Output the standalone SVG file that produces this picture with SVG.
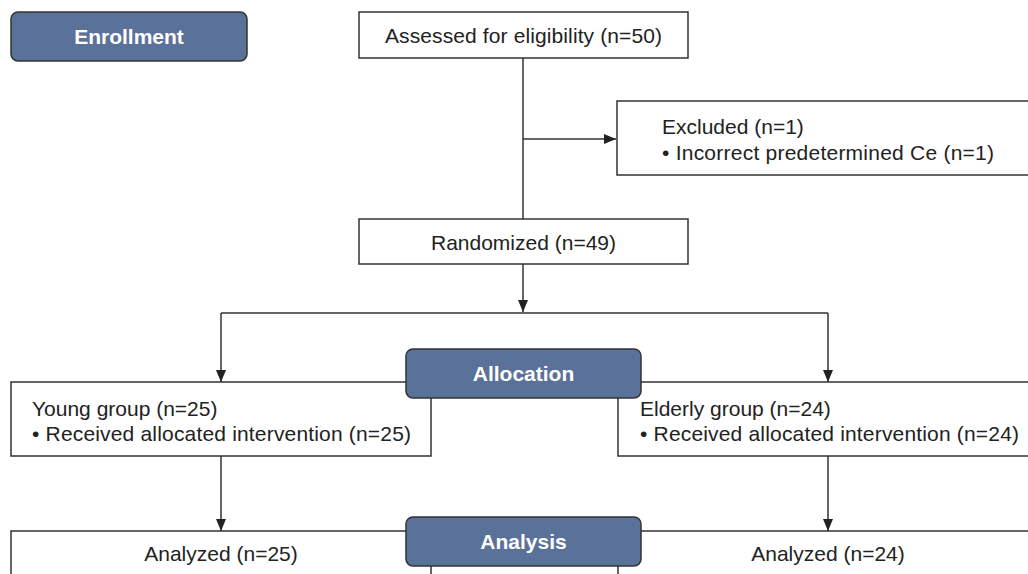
<svg xmlns="http://www.w3.org/2000/svg" width="1028" height="574" viewBox="0 0 1028 574">
<style>
.box{fill:#fff;stroke:#333;stroke-width:1.5}
.hdr{fill:#5a7299;stroke:#333;stroke-width:1.5}
.t{font-family:"Liberation Sans",Arial,sans-serif;font-size:21px;fill:#222}
.h{font-family:"Liberation Sans",Arial,sans-serif;font-size:21px;font-weight:bold;fill:#fff}
.c{fill:none;stroke:#333;stroke-width:1.5}
</style>
<defs>
<marker id="ah" viewBox="0 0 12 12" refX="12" refY="6" markerWidth="12" markerHeight="12" markerUnits="userSpaceOnUse" orient="auto">
<path d="M0,1 L12,6 L0,11 Z" fill="#222"/>
</marker>
</defs>
<g id="connectors">
<path class="c" d="M523,58 V219"/>
<path class="c" d="M523,139 H616" marker-end="url(#ah)"/>
<path class="c" d="M523,264 V312" marker-end="url(#ah)"/>
<path class="c" d="M221,313 H828"/>
<path class="c" d="M221,313 V382" marker-end="url(#ah)"/>
<path class="c" d="M828,313 V382" marker-end="url(#ah)"/>
<path class="c" d="M221,456 V531" marker-end="url(#ah)"/>
<path class="c" d="M828,456 V531" marker-end="url(#ah)"/>
</g>
<g id="enrollment">
<rect class="hdr" x="11" y="12" width="236" height="49" rx="7"/>
<text class="h" x="129" y="44" text-anchor="middle">Enrollment</text>
</g>
<g id="assessed">
<rect class="box" x="359" y="12" width="329" height="46"/>
<text class="t" x="523.5" y="43" text-anchor="middle" textLength="277">Assessed for eligibility (n=50)</text>
</g>
<g id="excluded">
<rect class="box" x="617" y="101" width="420" height="74"/>
<text class="t" x="662" y="134">Excluded (n=1)</text>
<text class="t" x="662" y="160" textLength="332">• Incorrect predetermined Ce (n=1)</text>
</g>
<g id="randomized">
<rect class="box" x="359" y="219" width="329" height="45"/>
<text class="t" x="523.5" y="250" text-anchor="middle">Randomized (n=49)</text>
</g>
<g id="young">
<rect class="box" x="11" y="382" width="420" height="74"/>
<text class="t" x="32" y="416">Young group (n=25)</text>
<text class="t" x="32" y="441" textLength="379">• Received allocated intervention (n=25)</text>
</g>
<g id="elderly">
<rect class="box" x="618" y="382" width="420" height="74"/>
<text class="t" x="640" y="416">Elderly group (n=24)</text>
<text class="t" x="640" y="441" textLength="379">• Received allocated intervention (n=24)</text>
</g>
<g id="allocation">
<rect class="hdr" x="406" y="349" width="235" height="49" rx="7"/>
<text class="h" x="523.5" y="381" text-anchor="middle">Allocation</text>
</g>
<g id="analyzed-young">
<rect class="box" x="11" y="531" width="420" height="60"/>
<text class="t" x="221" y="561" text-anchor="middle">Analyzed (n=25)</text>
</g>
<g id="analyzed-elderly">
<rect class="box" x="618" y="531" width="420" height="60"/>
<text class="t" x="828" y="561" text-anchor="middle">Analyzed (n=24)</text>
</g>
<g id="analysis">
<rect class="hdr" x="406" y="517" width="235" height="49" rx="7"/>
<text class="h" x="523.5" y="549" text-anchor="middle">Analysis</text>
</g>
</svg>
